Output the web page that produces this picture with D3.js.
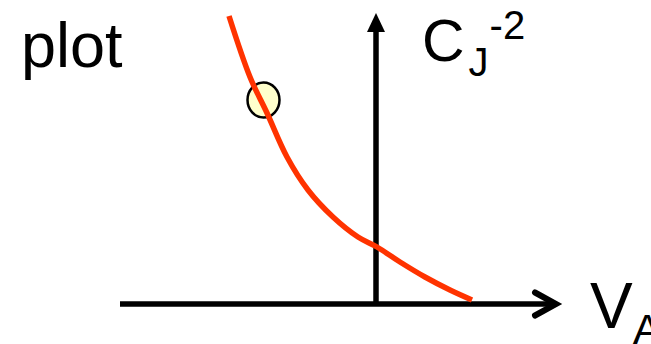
<!DOCTYPE html>
<html>
<head>
<meta charset="utf-8">
<script src="https://cdn.jsdelivr.net/npm/d3@7/dist/d3.min.js"></script>
<style>
  html, body { margin: 0; padding: 0; background: #fff; }
  svg { display: block; }
  text { font-family: "Liberation Sans", Arial, sans-serif; fill: #000; }
</style>
</head>
<body>
<svg id="chart" width="651" height="344"></svg>
<script>
// ---- data (abstract units: V_A horizontally, C_J^-2 vertically) ----
const curveVA   = [-2.94, -2.52, -2.18, -1.78, -1.36, -0.86, -0.36, 0.02, 0.48, 0.98, 1.48, 1.92];
const curveCJ2  = [ 5.76,  4.54,  3.82,  2.94,  2.28,  1.74,  1.34, 1.14, 0.84, 0.54, 0.28, 0.08];
const markerVA  = [-2.25];
const markerCJ2 = [4.08];
const xDomain = [-5.12, 3.64];
const yDomain = [0, 5.82];
const titleText = "plot";

const svg = d3.select("#chart");
const x = d3.scaleLinear().domain(xDomain).range([120, 558]);
const y = d3.scaleLinear().domain(yDomain).range([304, 13]);

const axisW = 5.5;
const x0 = x(0), y0 = y(0);

// horizontal axis shaft
svg.append("line")
  .attr("x1", x(xDomain[0])).attr("x2", x(xDomain[1]) - 3)
  .attr("y1", y0).attr("y2", y0)
  .attr("stroke", "#000").attr("stroke-width", axisW);
// horizontal chevron arrowhead
const tipX = x(xDomain[1]);
svg.append("path")
  .attr("d", `M${tipX - 23},${y0 - 11.5}L${tipX - 2},${y0}L${tipX - 23},${y0 + 11.5}`)
  .attr("fill", "none").attr("stroke", "#000").attr("stroke-width", 6)
  .attr("stroke-linecap", "round").attr("stroke-linejoin", "miter");

// vertical axis shaft
const tipY = y(yDomain[1]);
svg.append("line")
  .attr("x1", x0).attr("x2", x0)
  .attr("y1", y0).attr("y2", tipY + 17)
  .attr("stroke", "#000").attr("stroke-width", axisW);
// vertical filled arrowhead
svg.append("path")
  .attr("d", `M${x0},${tipY}L${x0 + 9},${tipY + 19}L${x0 - 9},${tipY + 19}Z`)
  .attr("fill", "#000");

// red curve
const pts = curveVA.map((v, i) => [v, curveCJ2[i]]);
const lineGen = d3.line().x(d => x(d[0])).y(d => y(d[1])).curve(d3.curveCatmullRom.alpha(0.5));

// marker (drawn under the curve, as in the reference)
svg.selectAll("ellipse.marker")
  .data(markerVA.map((v, i) => [v, markerCJ2[i]]))
  .join("ellipse")
  .attr("class", "marker")
  .attr("cx", d => x(d[0])).attr("cy", d => y(d[1]))
  .attr("rx", 16).attr("ry", 17.5)
  .attr("fill", "#ffffcc").attr("stroke", "#000").attr("stroke-width", 2.5);

svg.append("path")
  .datum(pts)
  .attr("d", lineGen)
  .attr("fill", "none").attr("stroke", "#ff3300").attr("stroke-width", 5.5);

// title text
svg.append("text").attr("x", 21).attr("y", 67)
  .attr("font-size", 63).text(titleText);

// y label C_J^-2
const yl = svg.append("text").attr("x", 422).attr("y", 61);
yl.append("tspan").attr("font-size", 59).text("C");
yl.append("tspan").attr("font-size", 40).attr("dx", 4).attr("dy", 15).text("J");
yl.append("tspan").attr("font-size", 40).attr("dx", 1).attr("dy", -37).text("-2");

// x label V_A
const xl = svg.append("text").attr("x", 590).attr("y", 328);
xl.append("tspan").attr("font-size", 64).text("V");
xl.append("tspan").attr("font-size", 43).attr("dy", 16).text("A");
</script>
</body>
</html>
